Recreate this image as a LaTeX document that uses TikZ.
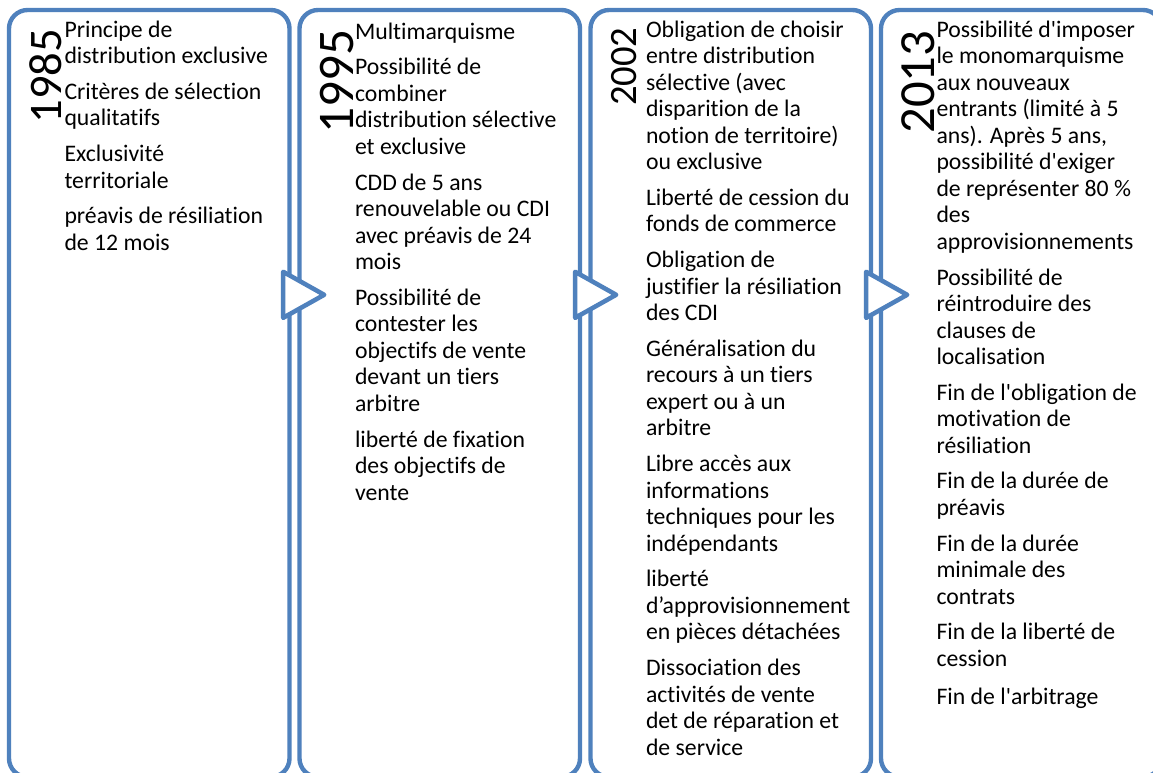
\documentclass[tikz,border=0pt]{standalone}
\usepackage{fontspec}
\setmainfont{Carlito}[Ligatures={TeXOff,CommonOff}]
\usetikzlibrary{positioning}
\definecolor{frameblue}{RGB}{79,129,189}
\tikzset{
    panel/.style={draw=frameblue, line width=3.3pt, rounded corners=14pt, fill=white, minimum width=210.4pt, minimum height=575.25pt}, % one period
    item/.style={align=left, inner sep=0, font=\fontsize{17.8}{19.9}\selectfont, execute at begin node=\strut, execute at end node=\strut},
    first/.style={below right=9.45pt and 43.1pt of #1.north west, anchor=north west}, % first item of a period
    stack/.style={below=8pt of #1.south west, anchor=north west}, % next item below
    year/.style={rotate=90, inner sep=0, anchor=base west},
    chevron/.style={draw=frameblue, line width=3.4pt, fill=white, line join=round}
}

\begin{document}
\begin{tikzpicture}[x=0.75pt, y=-0.75pt]
    \useasboundingbox (0,0) rectangle (1153,773);
    \clip (0,0) rectangle (1153,773);

    \node[panel] (panel_1985) at (149.25,393.5) {};
    \node[panel] (panel_1995) at (439.75,393.5) {};
    \node[panel] (panel_2002) at (730.75,393.5) {};
    \node[panel] (panel_2013) at (1021.25,393.5) {};

    \draw[chevron] ([xshift=-6.4pt, yshift=-198pt]panel_1985.north east) -- ++(0,46) -- ++(41,-23) -- cycle;
    \draw[chevron] ([xshift=-5.3pt, yshift=-198pt]panel_1995.north east) -- ++(0,46) -- ++(41,-23) -- cycle;
    \draw[chevron] ([xshift=-5.3pt, yshift=-198pt]panel_2002.north east) -- ++(0,46) -- ++(41,-23) -- cycle;

    % 1985
    \node[year, font=\fontsize{35}{35}\selectfont] (year_1985) at ([xshift=41.4pt, yshift=-86.9pt]panel_1985.north west) {1985};
    \node[item, first=panel_1985] (item_1985_a) {Principe de\\distribution exclusive};
    \node[item, stack=item_1985_a] (item_1985_b) {Critères de sélection\\qualitatifs};
    \node[item, stack=item_1985_b] (item_1985_c) {Exclusivité\\territoriale};
    \node[item, stack=item_1985_c] (item_1985_d) {préavis de résiliation\\de 12 mois};

    % 1995
    \node[year, font=\fontsize{38.5}{38.5}\selectfont] (year_1995) at ([xshift=41.8pt, yshift=-94.7pt]panel_1995.north west) {1995};
    \node[item, first=panel_1995] (item_1995_a) {Multimarquisme};
    \node[item, stack=item_1995_a] (item_1995_b) {Possibilité de\\combiner\\distribution sélective\\et exclusive};
    \node[item, stack=item_1995_b] (item_1995_c) {CDD de 5 ans\\renouvelable ou CDI\\avec préavis de 24\\mois};
    \node[item, stack=item_1995_c] (item_1995_d) {Possibilité de\\contester les\\objectifs de vente\\devant un tiers\\arbitre};
    \node[item, stack=item_1995_d] (item_1995_e) {liberté de fixation\\des objectifs de\\vente};

    % 2002
    \node[year, font=\fontsize{29}{29}\selectfont] (year_2002) at ([xshift=36.5pt, yshift=-73.8pt]panel_2002.north west) {2002};
    \node[item, first=panel_2002] (item_2002_a) {Obligation de choisir\\entre distribution\\sélective (avec\\disparition de la\\notion de territoire)\\ou exclusive};
    \node[item, stack=item_2002_a] (item_2002_b) {Liberté de cession du\\fonds de commerce};
    \node[item, stack=item_2002_b] (item_2002_c) {Obligation de\\justifier la résiliation\\des CDI};
    \node[item, stack=item_2002_c] (item_2002_d) {Généralisation du\\recours à un tiers\\expert ou à un\\arbitre};
    \node[item, stack=item_2002_d] (item_2002_e) {Libre accès aux\\informations\\techniques pour les\\indépendants};
    \node[item, stack=item_2002_e] (item_2002_f) {liberté\\d’approvisionnement\\en pièces détachées};
    \node[item, stack=item_2002_f] (item_2002_g) {Dissociation des\\activités de vente\\det de réparation et\\de service};

    % 2013
    \node[year, font=\fontsize{38}{38}\selectfont] (year_2013) at ([xshift=42.1pt, yshift=-94.5pt]panel_2013.north west) {2013};
    \node[item, first=panel_2013] (item_2013_a) {Possibilité d'imposer\\le monomarquisme\\aux nouveaux\\entrants (limité à 5\\ans). Après 5 ans,\\possibilité d'exiger\\de représenter 80~\%\\des\\approvisionnements};
    \node[item, stack=item_2013_a] (item_2013_b) {Possibilité de\\réintroduire des\\clauses de\\localisation};
    \node[item, stack=item_2013_b] (item_2013_c) {Fin de l'obligation de\\motivation de\\résiliation};
    \node[item, stack=item_2013_c] (item_2013_d) {Fin de la durée de\\préavis};
    \node[item, stack=item_2013_d] (item_2013_e) {Fin de la durée\\minimale des\\contrats};
    \node[item, stack=item_2013_e] (item_2013_f) {Fin de la liberté de\\cession};
    \node[item, stack=item_2013_f] (item_2013_g) {Fin de l'arbitrage};
\end{tikzpicture}
\end{document}
